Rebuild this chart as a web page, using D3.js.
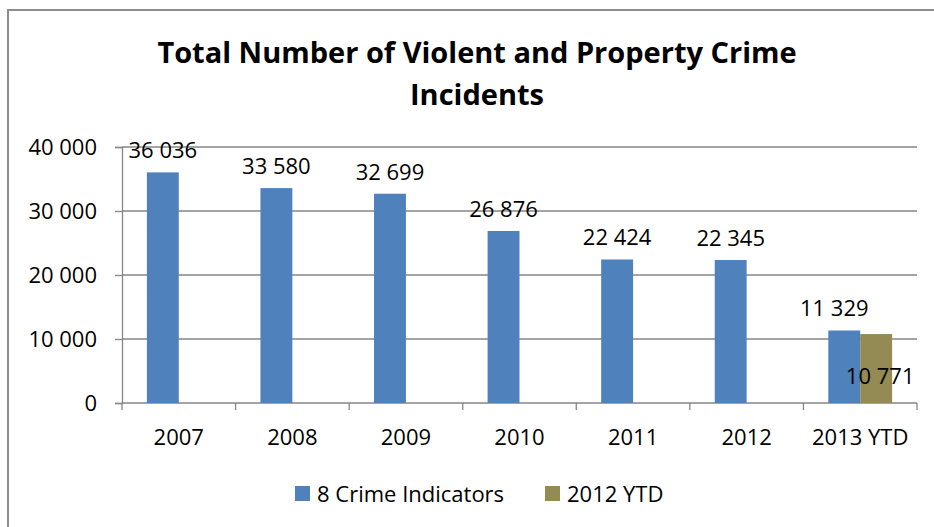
<!DOCTYPE html>
<html>
<head>
<meta charset="utf-8">
<script src="https://cdn.jsdelivr.net/npm/d3@7"></script>
<style>
  body { margin: 0; background: #fff; }
  text { font-family: "Open Sans", "Noto Sans", sans-serif; fill: #000; }
</style>
</head>
<body>
<script>
let categories = ["2007", "2008", "2009", "2010", "2011", "2012", "2013 YTD"];
let seriesNames = ["8 Crime Indicators", "2012 YTD"];
let crimeIndicators = [36036, 33580, 32699, 26876, 22424, 22345, 11329];
let ytd2012 = [null, null, null, null, null, null, 10771];
let yTicks = [0, 10000, 20000, 30000, 40000];
let colors = ["#4F81BD", "#948A54"];

let width = 934, height = 527;
let margin = { top: 147, right: 17, bottom: 124, left: 122 };
let plotW = width - margin.left - margin.right;
let plotH = height - margin.top - margin.bottom;

let svg = d3.select("body").append("svg")
    .attr("width", width)
    .attr("height", height);

// chart frame
svg.append("rect")
    .attr("x", 8).attr("y", 10)
    .attr("width", 940).attr("height", 540)
    .attr("fill", "none")
    .attr("stroke", "#8c8c8c")
    .attr("stroke-width", 2);

// title
svg.append("text")
    .attr("x", 477).attr("y", 63)
    .attr("text-anchor", "middle")
    .style("font-size", "29px").style("font-weight", "bold")
    .text("Total Number of Violent and Property Crime");
svg.append("text")
    .attr("x", 477).attr("y", 105)
    .attr("text-anchor", "middle")
    .style("font-size", "29px").style("font-weight", "bold")
    .text("Incidents");

let g = svg.append("g")
    .attr("transform", "translate(" + margin.left + "," + margin.top + ")");

let x0 = d3.scaleBand().domain(categories).range([0, plotW]).padding(0);
let x1 = d3.scaleBand().domain(seriesNames).range([0, x0.bandwidth()])
    .paddingInner(0).paddingOuter(0.78);
let y = d3.scaleLinear().domain([0, 40000]).range([plotH, 0]);

let fmt = v => d3.format(",")(v).replace(/,/g, " ");

// gridlines
g.selectAll(".grid").data(yTicks.slice(1)).enter().append("line")
    .attr("x1", 0).attr("x2", plotW)
    .attr("y1", d => y(d)).attr("y2", d => y(d))
    .attr("stroke", "#868686").attr("stroke-width", 1.3);

// y axis
let yAxis = g.append("g")
    .call(d3.axisLeft(y).tickValues(yTicks).tickSize(7).tickPadding(18).tickFormat(fmt));
yAxis.select(".domain").attr("stroke", "#868686").attr("stroke-width", 1.3);
yAxis.selectAll(".tick line").attr("stroke", "#868686").attr("stroke-width", 1.3);
yAxis.selectAll("text").style("font-size", "22px")
    .style("font-family", "'Open Sans', 'Noto Sans', sans-serif").attr("dy", "0.35em");

// x axis with ticks between categories
let xAxisG = g.append("g").attr("transform", "translate(0," + plotH + ")");
xAxisG.append("line").attr("x1", 0).attr("x2", plotW)
    .attr("stroke", "#868686").attr("stroke-width", 1.3);
let bounds = categories.map(c => x0(c)).concat([plotW]);
xAxisG.selectAll(".xt").data(bounds).enter().append("line")
    .attr("x1", d => d).attr("x2", d => d)
    .attr("y1", 0).attr("y2", 7)
    .attr("stroke", "#868686").attr("stroke-width", 1.3);
xAxisG.selectAll(".xl").data(categories).enter().append("text")
    .attr("x", d => x0(d) + x0.bandwidth() / 2)
    .attr("y", 42)
    .attr("text-anchor", "middle")
    .style("font-size", "22px")
    .text(d => d);

// bars
let rows = [];
categories.forEach((c, i) => {
    rows.push({ cat: c, s: seriesNames[0], v: crimeIndicators[i], k: 0, i: i });
    if (ytd2012[i] != null) rows.push({ cat: c, s: seriesNames[1], v: ytd2012[i], k: 1, i: i });
});

g.selectAll(".bar").data(rows).enter().append("rect")
    .attr("x", d => x0(d.cat) + x1(d.s))
    .attr("y", d => y(d.v))
    .attr("width", x1.bandwidth())
    .attr("height", d => plotH - y(d.v))
    .attr("fill", d => colors[d.k]);

// data labels
g.selectAll(".lbl").data(rows).enter().append("text")
    .attr("x", d => x0(d.cat) + x1(d.s) + x1.bandwidth() / 2 + (d.i == 6 ? (d.k == 0 ? -10 : 4) : 0))
    .attr("y", d => d.k == 1 ? y(d.v) + 50 : y(d.v) - 14)
    .attr("text-anchor", "middle")
    .style("font-size", "22px")
    .text(d => fmt(d.v));

// legend
let legend = svg.append("g").attr("transform", "translate(295,486)");
let legX = [0, 250];
seriesNames.forEach((s, i) => {
    legend.append("rect")
        .attr("x", legX[i]).attr("y", 0)
        .attr("width", 15).attr("height", 15)
        .attr("fill", colors[i]);
    legend.append("text")
        .attr("x", legX[i] + 22).attr("y", 16)
        .style("font-size", "22px")
        .text(s);
});
</script>
</body>
</html>
